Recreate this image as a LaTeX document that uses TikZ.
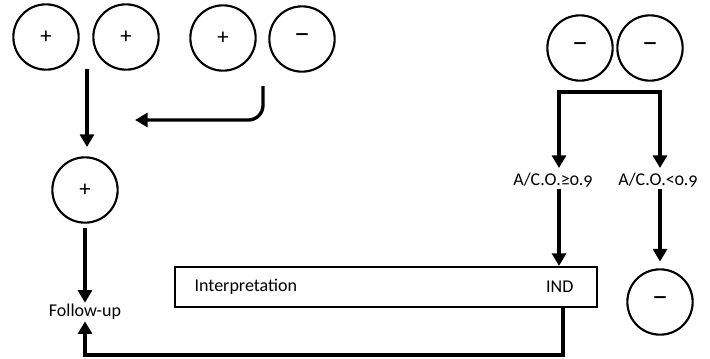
\documentclass[tikz,border=0pt]{standalone}
\usepackage{fontspec}
\setmainfont{Carlito}[Numbers=OldStyle]
\usetikzlibrary{arrows.meta}

\begin{document}
\begin{tikzpicture}[x=0.75pt,y=-0.75pt,font=\fontsize{13.5}{15}\selectfont]

    \tikzset{res/.style={draw,circle,line width=1.6pt,minimum size=49pt,inner sep=0pt,font=\fontsize{17}{17}\selectfont},
             minusres/.style={res,font=\fontsize{24}{24}\selectfont},
             flow/.style={line width=2.5pt,-{Triangle[width=10.5pt,length=9.5pt]}}}
    \tikzstyle{lbl}=[inner sep=1pt]

    \useasboundingbox (0,0) rectangle (710,358);

    % top row of results
    \node (s1)[res] at (46,37) {+};
    \node (s2)[res] at (126,37) {+};
    \node (s3)[res] at (223,38) {+};
    \node (s4)[minusres] at (302,39) {\raisebox{-2pt}{--}};
    \node (s5)[minusres] at (580,48) {\raisebox{-2pt}{--}};
    \node (s6)[minusres] at (650,48) {\raisebox{-2pt}{--}};

    % left branch
    \node (pos)[res] at (85,190) {+};
    \node (fu)[lbl] at (85,312) {Follow-up};
    \coordinate (pairOut) at (87,69);
    \coordinate (pairIn) at (87,147);
    \draw[flow] (pairOut) -- (pairIn);

    \coordinate (mixOut) at (263,86);
    \coordinate (mixIn) at (135,120);
    \draw[flow,rounded corners=11pt] (mixOut) |- (mixIn);

    \draw[flow,shorten <=3pt] (pos) -- (fu);

    % right branch
    \coordinate (fork) at (609,92);
    \coordinate (geIn) at (559,168);
    \coordinate (ltIn) at (660,168);
    \draw[flow] (fork) -| (geIn);
    \draw[flow] (fork) -| (ltIn);

    \node (ge)[lbl] at (553,180) {A/C.O.≥0.9};
    \node (lt)[lbl] at (658,180) {A/C.O.<0.9};

    \node (box)[draw,line width=1.6pt,minimum width=316.5pt,minimum height=30pt,inner sep=0pt] at (386,287) {};
    \node (interp)[lbl,anchor=west] at (193,287) {Interpretation};
    \node (ind)[lbl,anchor=east] at (575,287) {IND};

    \node (neg)[minusres] at (660,302) {\raisebox{-2pt}{--}};

    \draw[flow] (ge.south -| geIn) -- (geIn |- box.north);
    \draw[flow,shorten >=5pt] (lt.south -| ltIn) -- (neg.north);

    % back to follow-up
    \coordinate (ret) at (563,307);
    \draw[flow] (ret) -- ++(0,48) -| (fu.south);

\end{tikzpicture}
\end{document}
